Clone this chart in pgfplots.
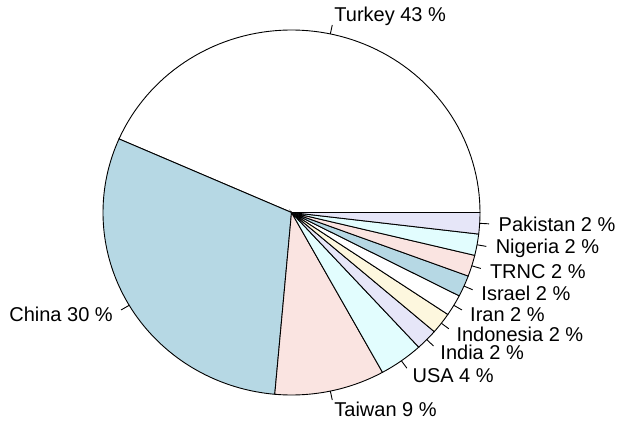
\documentclass[border=0pt]{standalone}
\usepackage{pgfplots}
\pgfplotsset{compat=1.18}
\usepackage{fontspec}
\setmainfont{Liberation Sans}
\definecolor{rlightblue}{RGB}{182,216,228}
\definecolor{rmistyrose}{RGB}{250,228,225}
\definecolor{rlightcyan}{RGB}{226,253,254}
\definecolor{rlavender}{RGB}{230,230,248}
\definecolor{rcornsilk}{RGB}{253,247,222}
% counts: Turkey 23, China 16, Taiwan 5, USA 2, India 1, Indonesia 1, Iran 1, Israel 1, TRNC 1, Nigeria 1, Pakistan 1 (total 53)
\newcommand\slice[3]{%
  \addplot[fill=#3, draw=black, line width=0.9pt, domain=#1:#2, samples=80]
    ({cos(x)},{sin(x)}) -- (axis cs:0,0) -- cycle;}
\newcommand\slicelabel[3]{%
  \draw[line width=0.9pt] (axis cs:{cos(#1)},{sin(#1)}) -- (axis cs:{1.05*cos(#1)},{1.05*sin(#1)});
  \node[anchor=#3, inner sep=0pt, font=\fontsize{20}{24}\selectfont] at (axis cs:{1.1*cos(#1)},{1.1*sin(#1)}) {#2};}
\begin{document}
\begin{tikzpicture}
\begin{axis}[
  scale only axis, width=624pt, height=422pt,
  xmin=-1.5464, xmax=1.7639, ymin=-1.1479, ymax=1.1644,
  hide axis, clip=false,
]
\addplot[draw=none] coordinates {(-1.5464,-1.1479) (1.7639,1.1644)};
\slice{0}{156.226}{white}
\slice{156.226}{264.906}{rlightblue}
\slice{264.906}{298.868}{rmistyrose}
\slice{298.868}{312.453}{rlightcyan}
\slice{312.453}{319.245}{rlavender}
\slice{319.245}{326.038}{rcornsilk}
\slice{326.038}{332.830}{white}
\slice{332.830}{339.623}{rlightblue}
\slice{339.623}{346.415}{rmistyrose}
\slice{346.415}{353.208}{rlightcyan}
\slice{353.208}{360}{rlavender}
\slicelabel{78.113}{Turkey 43 \%}{west}
\slicelabel{210.566}{China 30 \%}{east}
\slicelabel{281.887}{Taiwan 9 \%}{west}
\slicelabel{305.660}{USA 4 \%}{west}
\slicelabel{315.849}{India 2 \%}{west}
\slicelabel{322.642}{Indonesia 2 \%}{west}
\slicelabel{329.434}{Iran 2 \%}{west}
\slicelabel{336.226}{Israel 2 \%}{west}
\slicelabel{343.019}{TRNC 2 \%}{west}
\slicelabel{349.811}{Nigeria 2 \%}{west}
\slicelabel{356.604}{Pakistan 2 \%}{west}
\end{axis}
\end{tikzpicture}
\end{document}
